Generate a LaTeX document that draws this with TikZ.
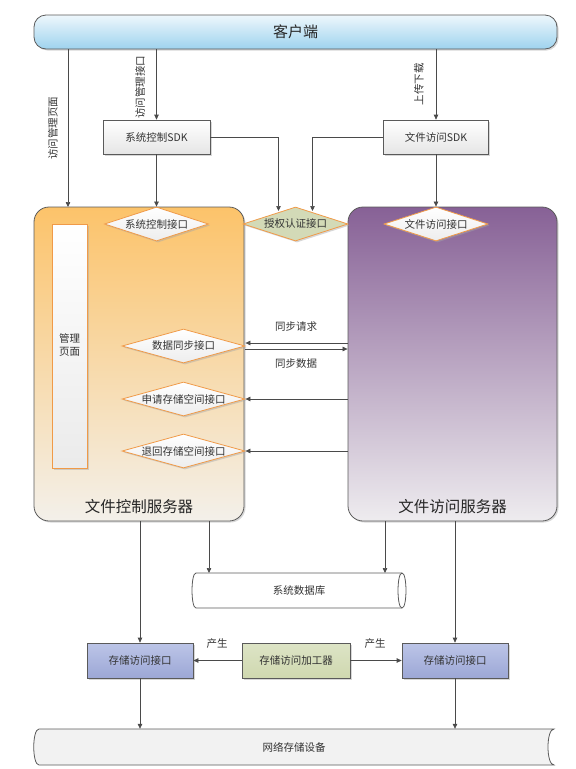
\documentclass[tikz,border=0pt]{standalone}
\usepackage{fontspec}
\setmainfont{Noto Sans CJK SC}
\usetikzlibrary{shapes.geometric,arrows.meta,shadows,calc}
\definecolor{linec}{HTML}{4A4A4A}
\definecolor{cliT}{HTML}{EEF7FC}
\definecolor{cliB}{HTML}{9ED3EE}
\definecolor{orgT}{HTML}{FCC36A}
\definecolor{orgB}{HTML}{F3F0EA}
\definecolor{purT}{HTML}{876196}
\definecolor{purB}{HTML}{EEECEF}
\definecolor{orgb}{HTML}{F09A48}
\definecolor{authF}{HTML}{D3DAB7}
\definecolor{procT}{HTML}{DDE4C6}
\definecolor{procB}{HTML}{CFD8AF}
\definecolor{stoT}{HTML}{BCC5E7}
\definecolor{stoB}{HTML}{9CA7D6}
\definecolor{netF}{HTML}{F2F2F2}
\definecolor{txt}{HTML}{333333}
\definecolor{boxb}{HTML}{5A5A5A}
\begin{document}
\begin{tikzpicture}[x=1pt,y=-1pt,
  font=\fontsize{10.5}{13}\selectfont, text=txt,
  arr/.style={draw=linec, line width=0.7pt, -{Triangle[length=5pt,width=4.5pt]}},
  ln/.style={draw=linec, line width=0.7pt},
  sh/.style={drop shadow={shadow xshift=1.5pt, shadow yshift=-1.5pt, fill=black!35, opacity=0.45}},
  box/.style={rectangle, draw=boxb, line width=0.7pt, inner sep=0pt, sh},
  dia/.style={diamond, draw=orgb, line width=0.8pt, inner sep=0pt, top color=white, bottom color=black!7, sh},
  srv/.style={rectangle, rounded corners=15pt, draw=boxb, line width=0.8pt, inner sep=0pt, sh},
  big/.style={font=\fontsize{15.5}{18}\selectfont, text=black!85},
  lbl/.style={inner sep=1pt}
]
\useasboundingbox (0,0) rectangle (576,769);

% client bar
\node[rectangle, rounded corners=12pt, draw=boxb, line width=0.8pt, top color=cliT, bottom color=cliB,
      minimum width=523pt, minimum height=34pt, inner sep=0pt, sh,
      font=\fontsize{15}{18}\selectfont, text=black!85] (client) at (295.5,32) {客户端};

% servers
\node[srv, top color=orgT, bottom color=orgB, minimum width=210pt, minimum height=314pt] (fcs) at (139,364) {};
\node[srv, top color=purT, bottom color=purB, minimum width=209pt, minimum height=314pt] (fas) at (452.5,364) {};
\node[big] (fcst) at (139,507) {文件控制服务器};
\node[big] (fast) at (452.5,507) {文件访问服务器};

% management page
\node[rectangle, draw=orgb, line width=0.8pt, top color=white, bottom color=black!8,
      minimum width=35pt, minimum height=244pt, inner sep=0pt, sh] (mp) at (69.5,346) {};
\node[lbl, align=center] (mpt) at (69.5,345) {管理\\页面};

% SDK boxes
\node[box, top color=white, bottom color=black!10, minimum width=107pt, minimum height=34pt] (sdk1) at (156.5,137) {系统控制SDK};
\node[box, top color=white, bottom color=black!10, minimum width=105pt, minimum height=34pt] (sdk2) at (436,137) {文件访问SDK};

% diamonds
\node[dia, minimum width=104pt, minimum height=34pt] (sysif) at (156.5,224) {};
\node[lbl] (sysift) at (sysif) {系统控制接口};
\node[diamond, draw=orgb, line width=0.8pt, inner sep=0pt, fill=authF, sh, minimum width=105pt, minimum height=34pt] (auth) at (295.5,224) {};
\node[lbl] (autht) at (auth) {授权认证接口};
\node[dia, minimum width=104pt, minimum height=34pt] (fileif) at (436,224) {};
\node[lbl] (fileift) at (fileif) {文件访问接口};

\node[dia, minimum width=123pt, minimum height=34pt] (sync) at (183.5,346) {};
\node[lbl] (synct) at (sync) {数据同步接口};
\node[dia, minimum width=123pt, minimum height=34pt] (apply) at (183.5,399) {};
\node[lbl] (applyt) at (apply) {申请存储空间接口};
\node[dia, minimum width=123pt, minimum height=34pt] (ret) at (183.5,451) {};
\node[lbl] (rett) at (ret) {退回存储空间接口};

% client arrows and labels
\coordinate (pg) at (68,207);
\draw[arr] (client.south -| pg) -- (pg);
\draw[arr] (client.south -| sdk1.north) -- (sdk1.north);
\draw[arr] (client.south -| sdk2.north) -- (sdk2.north);
\node[lbl, rotate=90] (lb1) at (53,128) {访问管理页面};
\node[lbl, rotate=90] (lb2) at (140,87) {访问管理接口};
\node[lbl, rotate=90] (lb3) at (419,84) {上传下载};

% SDK to interfaces
\draw[arr] (sdk1.south) -- (sysif.north);
\draw[arr] (sdk2.south) -- (fileif.north);
\coordinate (a1) at (278.5,211);
\coordinate (a2) at (312.5,211);
\draw[arr] (sdk1.east) -| (a1);
\draw[arr] (sdk2.west) -| (a2);

% sync arrows
\coordinate (s1) at ([yshift=3pt]sync.east);
\coordinate (s2) at ([yshift=-3pt]sync.east);
\draw[arr] (s1 -| fas.west) -- (s1);
\draw[arr] (s2) -- (s2 -| fas.west);
\node[lbl] (sreq) at (296,327) {同步请求};
\node[lbl] (sdat) at (296,364) {同步数据};
\draw[arr] (apply.east -| fas.west) -- (apply.east);
\draw[arr] (ret.east -| fas.west) -- (ret.east);

% database
\node[minimum width=214pt, minimum height=35pt, inner sep=0pt] (db) at (299,590.5) {};
\draw[draw=boxb, line width=0.8pt, fill=white]
  (196,573) -- (402,573) .. controls (407.3,573) and (407.3,608) .. (402,608)
  -- (196,608) .. controls (190.7,608) and (190.7,573) .. (196,573) -- cycle;
\draw[draw=boxb, line width=0.8pt] (402,573) .. controls (396.7,573) and (396.7,608) .. (402,608);
\node[inner sep=0pt] (dbt) at (db) {系统数据库};

% storage interfaces and processor
\node[box, top color=stoT, bottom color=stoB, minimum width=106pt, minimum height=35pt] (stoL) at (140,660.5) {存储访问接口};
\node[box, top color=procT, bottom color=procB, minimum width=108pt, minimum height=35pt] (proc) at (296,660.5) {存储访问加工器};
\node[box, top color=stoT, bottom color=stoB, minimum width=106pt, minimum height=35pt] (stoR) at (455,660.5) {存储访问接口};
\draw[arr] (proc.west) -- (stoL.east);
\draw[arr] (proc.east) -- (stoR.west);
\node[lbl] (p1) at (217,644) {产生};
\node[lbl] (p2) at (375,644) {产生};

% server to db / storage
\coordinate (d1) at (209,573);
\coordinate (d2) at (385,573);
\draw[arr] (d1 |- fcs.south) -- (d1);
\draw[arr] (d2 |- fas.south) -- (d2);
\draw[arr] (stoL.north |- fcs.south) -- (stoL.north);
\draw[arr] (stoR.north |- fas.south) -- (stoR.north);

% network storage
\node[minimum width=520pt, minimum height=36pt, inner sep=0pt] (net) at (294,747) {};
\draw[draw=boxb, line width=0.8pt, fill=netF]
  (39,729) -- (554,729) .. controls (546,729) and (546,765) .. (554,765)
  -- (39,765) .. controls (32,765) and (32,729) .. (39,729) -- cycle;
\node[inner sep=0pt] (nett) at (net) {网络存储设备};
\draw[arr] (stoL.south) -- (stoL.south |- net.north);
\draw[arr] (stoR.south) -- (stoR.south |- net.north);
\end{tikzpicture}
\end{document}
